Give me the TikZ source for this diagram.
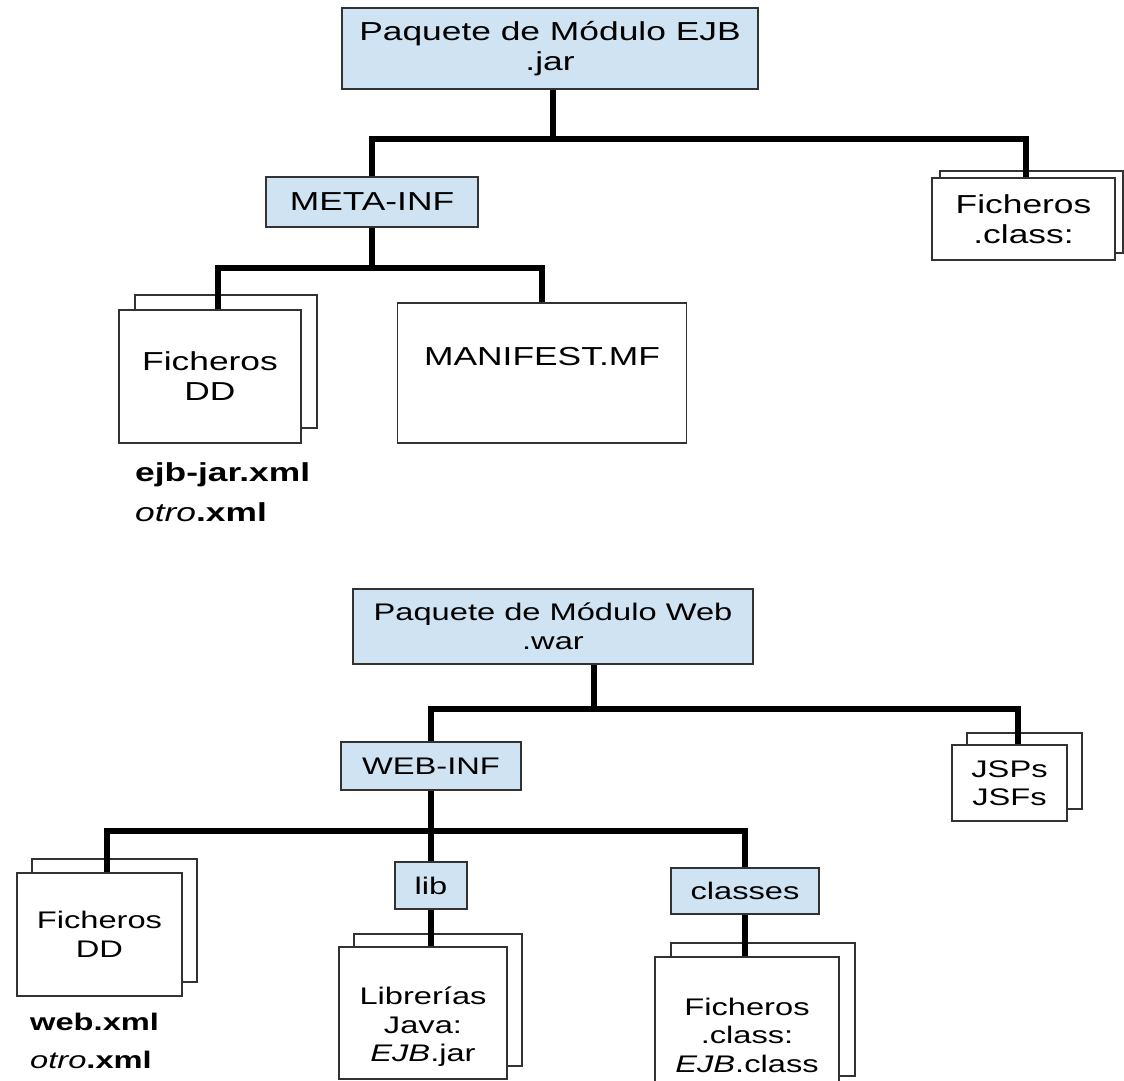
\documentclass[tikz,border=0pt]{standalone}
\usepackage{fontspec}
\setmainfont{Liberation Sans}[FakeStretch=1.36]
\usetikzlibrary{shadows}

\definecolor{pkgblue}{RGB}{207,227,242}
\definecolor{boxgray}{RGB}{50,50,50}

\begin{document}
\begin{tikzpicture}[x=1pt, y=-1pt,
		stack/.style 2 args={copy shadow={shadow xshift=#1pt, shadow yshift=#2pt, draw=boxgray, line width=1.5pt, fill=white}}]
			\tikzstyle{folder} = [draw=boxgray, line width=1.5pt, fill=pkgblue, align=center, inner sep=0pt]
			\tikzstyle{file}   = [draw=boxgray, line width=1.5pt, fill=white, align=center, inner sep=0pt]
			\tikzstyle{bigtxt} = [font=\fontsize{26}{30}\selectfont]
			\tikzstyle{smltxt} = [font=\fontsize{24}{28.5}\selectfont]
			\tikzstyle{conn}   = [line width=6pt, black]

			\useasboundingbox (0,0) rectangle (1124,1081);

			% paquete EJB
			\node[folder, bigtxt, minimum width=416pt, minimum height=81pt] (jar) at (550,48.5) {Paquete de Módulo EJB\\.jar};
			\node[folder, bigtxt, minimum width=212pt, minimum height=50pt] (metainf) at (372,202) {META-INF};
			\node[file, bigtxt, stack={8}{7}, minimum width=183pt, minimum height=82pt] (clsA) at (1023.5,219) {Ficheros\\.class:};
			\node[file, bigtxt, stack={16}{15}, minimum width=182pt, minimum height=133pt] (ddA) at (210,376.5) {Ficheros\\DD};
			\node[file, minimum width=289pt, minimum height=140pt] (manifest) at (542,373) {};
			\node[bigtxt] (manifestT) at ([yshift=16pt]manifest.center) {MANIFEST.MF};
			\node[bigtxt, anchor=west, align=left, inner sep=0pt] (xmlA) at (135,492) {\textbf{ejb-jar.xml}\\[10pt]\textit{otro}\textbf{.xml}};

			% paquete Web
			\node[folder, smltxt, minimum width=400pt, minimum height=75pt] (war) at (553,626.5) {Paquete de Módulo Web\\.war};
			\node[folder, smltxt, minimum width=180pt, minimum height=48pt] (webinf) at (431,766) {WEB-INF};
			\node[file, smltxt, stack={15}{12}, minimum width=115pt, minimum height=76pt] (jsp) at (1009.5,783) {JSPs\\JSFs};
			\node[file, smltxt, stack={15}{14}, minimum width=165pt, minimum height=123pt] (ddB) at (99.5,934.5) {Ficheros\\DD};
			\node[smltxt, anchor=west, align=left, inner sep=0pt] (xmlB) at (30,1041) {\textbf{web.xml}\\[9.5pt]\textit{otro}\textbf{.xml}};
			\node[folder, smltxt, minimum width=72pt, minimum height=47pt] (lib) at (431,885.5) {lib};
			\node[folder, smltxt, minimum width=148pt, minimum height=46pt] (classes) at (745,891) {classes};
			\node[file, stack={15}{13}, minimum width=168pt, minimum height=132pt] (libjava) at (423,1013) {};
			\node[smltxt, align=center] (libjavaT) at ([yshift=-14pt]libjava.center) {Librerías\\Java:\\\textit{EJB}.jar};
			\node[file, stack={16}{14}, minimum width=184pt, minimum height=133pt] (clsB) at (747,1023.5) {};
			\node[smltxt, align=center] (clsBT) at ([yshift=-11.5pt]clsB.center) {Ficheros\\.class:\\\textit{EJB}.class};

			% conectores
			\coordinate (jarbar) at ([xshift=3pt, yshift=-49pt]jar.south);
			\coordinate (metabar) at ([yshift=-40pt]metainf.south);
			\coordinate (warbar) at ([xshift=41pt, yshift=-44pt]war.south);
			\coordinate (webbar) at ([yshift=-40pt]webinf.south);

			\draw[conn] ([xshift=3pt]jar.south) -- (jarbar);
			\draw[conn] (metainf.north) |- (jarbar) -| ([xshift=2pt]clsA.north);
			\draw[conn] (metainf.south) -- (metabar);
			\draw[conn] ([xshift=8pt]ddA.north) |- (metabar) -| (manifest.north);

			\draw[conn] ([xshift=41pt]war.south) -- (warbar);
			\draw[conn] (webinf.north) |- (warbar) -| ([xshift=8pt]jsp.north);
			\draw[conn] (webinf.south) -- (webbar);
			\draw[conn] ([xshift=7pt]ddB.north) |- (webbar) -| (classes.north);
			\draw[conn] (lib.north) -- (lib.north |- webbar);
			\draw[conn] (lib.south) -- ([xshift=8pt]libjava.north);
			\draw[conn] (classes.south) -- (classes.south |- clsB.north);
		\end{tikzpicture}
\end{document}
